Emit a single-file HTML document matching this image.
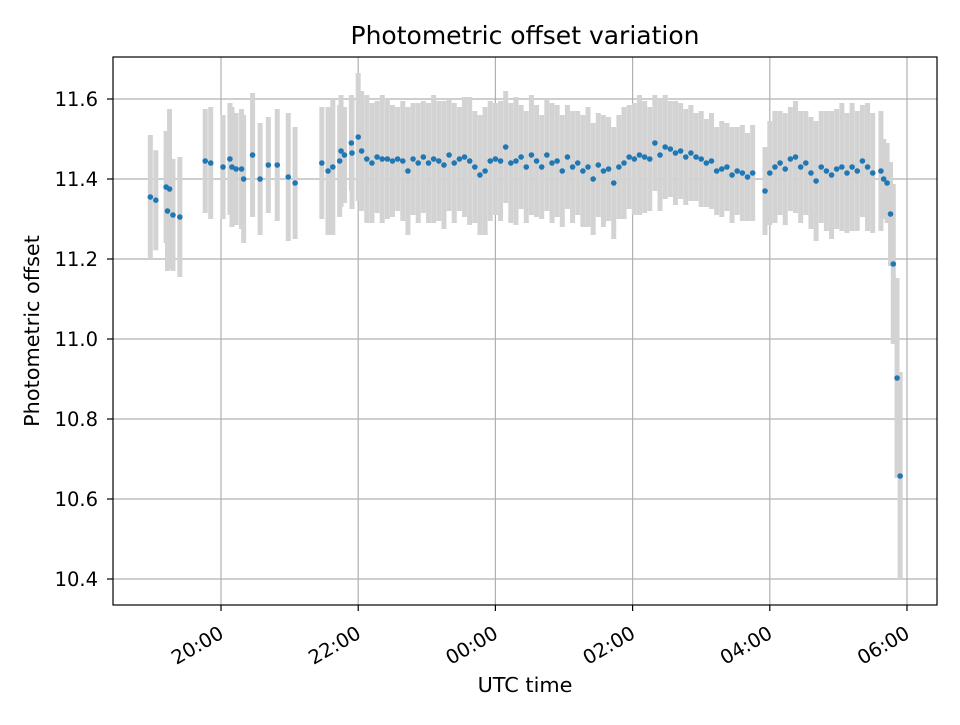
<!DOCTYPE html>
<html><head><meta charset="utf-8"><style>
body{margin:0;background:#fff}
svg text{font-family:"DejaVu Sans","Liberation Sans",sans-serif;fill:#000}
</style></head><body>
<svg id="chart" width="960" height="720" xmlns="http://www.w3.org/2000/svg">
<rect width="960" height="720" fill="#fff"/>
<g id="grid"></g>
<g id="errs"></g>
<g id="pts"></g>
<rect x="113" y="57" width="824" height="548" fill="none" stroke="#000" stroke-width="1.2"/>
<g id="axes"></g>
<text x="525" y="44" font-size="25" text-anchor="middle">Photometric offset variation</text>
<text x="525" y="692" font-size="20.8" text-anchor="middle">UTC time</text>
<text transform="translate(39,331) rotate(-90)" font-size="20.8" text-anchor="middle">Photometric offset</text>
</svg>
<script>
// hours since 00:00 of first day (24+ = next day)
const times = [18.97,19.05,19.2,19.25,19.22,19.3,19.4,19.77,19.85,20.03,20.13,20.16,20.22,20.3,20.33,20.46,20.57,20.69,20.82,20.98,21.08,21.47,21.56,21.63,21.73,21.75,21.8,21.9,21.91,22.0,
22.05,22.125,22.2,22.275,22.35,22.425,22.5,22.575,22.65,22.725,22.8,22.875,22.95,
23.025,23.1,23.175,23.25,23.325,23.4,23.475,23.55,23.625,23.7,23.775,23.85,23.925,
24.0,24.075,24.15,24.225,24.3,24.375,24.45,24.525,24.6,24.675,24.75,24.825,24.9,
24.975,25.05,25.125,25.2,25.275,25.35,25.425,25.5,25.575,25.65,25.725,25.8,25.875,
25.95,26.025,26.1,26.175,26.25,26.325,26.4,26.475,26.55,26.625,26.7,26.775,26.85,
26.925,27.0,27.075,27.15,27.225,27.3,27.375,27.45,27.525,27.6,27.675,27.75,27.93,
28.0,28.075,28.15,28.225,28.3,28.375,28.45,28.525,28.6,28.675,28.75,28.825,28.9,
28.975,29.05,29.125,29.2,29.275,29.35,29.425,29.5,
29.62,29.66,29.71,29.76,29.8,29.855,29.9];
const values = [11.355,11.347,11.38,11.375,11.32,11.31,11.305,11.445,11.44,11.43,11.45,11.43,11.425,11.425,11.40,11.46,11.40,11.435,11.435,11.405,11.39,11.44,11.42,11.43,11.445,11.47,11.46,11.49,11.465,11.505,
11.47,11.45,11.44,11.455,11.45,11.45,11.445,11.45,11.445,11.42,11.45,11.44,11.455,
11.44,11.45,11.445,11.435,11.46,11.44,11.45,11.455,11.445,11.43,11.41,11.42,11.445,
11.45,11.445,11.48,11.44,11.445,11.455,11.43,11.46,11.445,11.43,11.46,11.44,11.445,
11.42,11.455,11.43,11.44,11.42,11.43,11.40,11.435,11.42,11.425,11.39,11.43,11.44,
11.455,11.45,11.46,11.455,11.45,11.49,11.46,11.48,11.475,11.465,11.47,11.455,11.465,
11.455,11.45,11.44,11.445,11.42,11.425,11.43,11.41,11.42,11.415,11.405,11.415,11.37,
11.415,11.43,11.44,11.425,11.45,11.455,11.43,11.44,11.415,11.395,11.43,11.42,11.41,
11.425,11.43,11.415,11.43,11.42,11.445,11.43,11.415,
11.42,11.40,11.39,11.3125,11.1875,10.9025,10.6575];
const errors = [0.155,0.125,0.14,0.2,0.15,0.14,0.15,0.13,0.14,0.13,0.14,0.15,0.14,0.15,0.16,0.155,0.14,0.12,0.14,0.16,0.14,0.14,0.16,0.17,0.14,0.14,0.12,0.12,0.14,0.16,
0.15,0.16,0.15,0.14,0.16,0.15,0.14,0.13,0.15,0.16,0.14,0.15,0.14,
0.15,0.16,0.15,0.16,0.14,0.15,0.13,0.15,0.16,0.14,0.15,0.16,0.15,
0.14,0.15,0.14,0.15,0.16,0.13,0.14,0.15,0.14,0.13,0.14,0.15,0.14,
0.14,0.13,0.14,0.13,0.14,0.15,0.14,0.13,0.14,0.13,0.14,0.13,0.14,
0.13,0.14,0.15,0.14,0.13,0.12,0.14,0.13,0.12,0.13,0.12,0.12,0.12,
0.11,0.12,0.11,0.12,0.11,0.12,0.11,0.12,0.11,0.12,0.11,0.12,0.11,
0.13,0.14,0.13,0.14,0.13,0.14,0.14,0.13,0.14,0.15,0.14,0.15,0.16,
0.15,0.16,0.15,0.16,0.15,0.14,0.16,0.15,
0.15,0.10,0.10,0.13,0.20,0.25,0.26];
const yTicks = [10.4,10.6,10.8,11.0,11.2,11.4,11.6];
const xTicks = [20,22,24,26,28,30];
const xTickLabels = ["20:00","22:00","00:00","02:00","04:00","06:00"];

const NS='http://www.w3.org/2000/svg';
function xs(h){return 221+(h-20)*68.6;}
function ys(v){return 579-(v-10.4)*400;}
function mk(tag,attrs,parent){const e=document.createElementNS(NS,tag);for(const k in attrs)e.setAttribute(k,attrs[k]);parent.appendChild(e);return e;}
const grid=document.getElementById('grid'),axes=document.getElementById('axes'),errs=document.getElementById('errs'),pts=document.getElementById('pts');
yTicks.forEach(v=>{
  const y=ys(v);
  const g=mk('line',{x1:113,x2:937,y1:y,y2:y,stroke:'#b0b0b0','stroke-width':1.2},grid);
  
  
  const t=mk('line',{x1:107,x2:113,y1:y,y2:y,stroke:'#000','stroke-width':1.2},axes);
  
  
  const l=mk('text',{x:98,y:y+7,'font-size':19.5,'text-anchor':'end'},axes);
  l.textContent=v.toFixed(1);
  
  
});
xTicks.forEach((h,i)=>{
  const x=xs(h);
  const g=mk('line',{x1:x,x2:x,y1:57,y2:605,stroke:'#b0b0b0','stroke-width':1.2},grid);
  
  
  const t=mk('line',{x1:x,x2:x,y1:605,y2:611,stroke:'#000','stroke-width':1.2},axes);
  
  
  const l=mk('text',{transform:`translate(${x+4},${637}) rotate(-30)`,'font-size':19.5,'text-anchor':'end'},axes);
  l.textContent=xTickLabels[i];
  
  
});
times.forEach((h,i)=>{
  const x=xs(h);
  const b=mk('line',{x1:x,x2:x,y1:ys(values[i]+errors[i]),y2:ys(values[i]-errors[i]),stroke:'#d3d3d3','stroke-width':5},errs);
  
  
});
times.forEach((h,i)=>{
  const c=mk('circle',{cx:xs(h),cy:ys(values[i]),r:2.8,fill:'#1f77b4'},pts);
  
  
});
</script>
</body></html>
